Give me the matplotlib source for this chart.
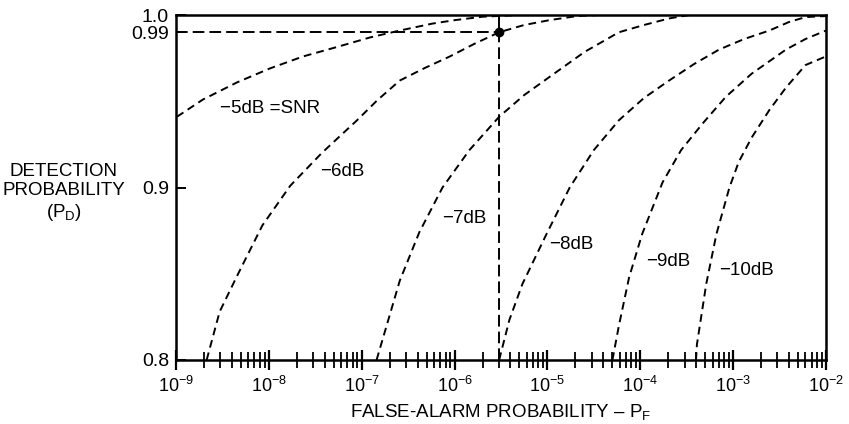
import numpy as np
import matplotlib
matplotlib.use("Agg")
import matplotlib.pyplot as plt
from matplotlib.ticker import LogLocator, NullFormatter

plt.rcParams['font.family'] = ['Liberation Sans', 'DejaVu Sans']
plt.rcParams['mathtext.fontset'] = 'custom'
plt.rcParams['mathtext.rm'] = 'Liberation Sans'
plt.rcParams['mathtext.it'] = 'Liberation Sans:italic'

# curves: log10(false-alarm prob) and detection prob
snr_labels = ["\u22125dB =SNR", "\u22126dB", "\u22127dB", "\u22128dB", "\u22129dB", "\u221210dB"]

pf_m5 = [-8.99, -8.71, -8.34, -7.99, -7.63, -7.27, -6.91, -6.59, -6.24, -6.00, -5.70, -5.30, -2.0]
pd_m5 = [0.941, 0.951, 0.961, 0.969, 0.976, 0.9814, 0.987, 0.991, 0.995, 0.997, 0.999, 1.0, 1.0]

pf_m6 = [-8.67, -8.53, -8.34, -8.07, -7.77, -7.43, -7.05, -6.83, -6.59, -6.32, -6.05, -5.79,
         -5.52, -5.25, -4.98, -4.68, -4.45, -2.0]
pd_m6 = [0.800, 0.828, 0.849, 0.878, 0.901, 0.920, 0.939, 0.9507, 0.962, 0.9693, 0.976, 0.9832,
         0.990, 0.9942, 0.997, 0.9994, 1.0, 1.0]

pf_m7 = [-6.84, -6.59, -6.38, -6.13, -5.84, -5.52, -5.25, -4.98, -4.60, -4.23, -3.96, -3.69, -3.47, -2.0]
pd_m7 = [0.800, 0.846, 0.874, 0.900, 0.9217, 0.941, 0.9536, 0.964, 0.9786, 0.990, 0.9942, 0.998, 1.0, 1.0]

pf_m8 = [-5.52, -5.41, -5.27, -5.01, -4.76, -4.50, -4.23, -3.96, -3.69, -3.42, -3.15, -2.88,
         -2.61, -2.40, -2.22, -2.0]
pd_m8 = [0.800, 0.8232, 0.844, 0.873, 0.900, 0.9217, 0.939, 0.9519, 0.962, 0.9716, 0.980, 0.9861,
         0.991, 0.9959, 0.9988, 0.9994]

pf_m9 = [-4.30, -4.23, -4.12, -3.98, -3.76, -3.56, -3.33, -3.08, -2.80, -2.43, -2.22, -2.0]
pd_m9 = [0.800, 0.820, 0.848, 0.873, 0.903, 0.9217, 0.937, 0.9525, 0.966, 0.980, 0.9861, 0.991]

pf_m10 = [-3.40, -3.39, -3.29, -3.18, -3.04, -2.94, -2.80, -2.61, -2.43, -2.22, -2.0]
pd_m10 = [0.800, 0.809, 0.844, 0.873, 0.900, 0.9148, 0.929, 0.9449, 0.958, 0.971, 0.976]

curves = [(pf_m5, pd_m5), (pf_m6, pd_m6), (pf_m7, pd_m7),
          (pf_m8, pd_m8), (pf_m9, pd_m9), (pf_m10, pd_m10)]

# label anchor points (log10 pf, pd)
label_pf = [-8.53, -7.45, -6.13, -4.98, -3.94, -3.15]
label_pd = [0.946, 0.909, 0.882, 0.867, 0.857, 0.852]

# operating point
op_pf = 3e-6
op_pd = 0.99

yticks = [0.8, 0.9, 0.99, 1.0]
ytick_labels = ["0.8", "0.9", "0.99", "1.0"]

fig = plt.figure(figsize=(8.49, 4.24), dpi=100)
ax = fig.add_axes([176/849, 1 - 360/424, 650/849, 345/424])

for (lp, pd) in curves:
    ax.plot(10.0 ** np.array(lp), pd, color='black', lw=1.4,
            linestyle=(0, (4, 2.6)), clip_on=True)

for txt, lx, ly in zip(snr_labels, label_pf, label_pd):
    ax.text(10.0 ** lx, ly, txt, fontsize=13.5, ha='left', va='center')

# 0.99 / 3e-6 construction lines
ax.plot([1e-9, op_pf], [op_pd, op_pd], color='black', lw=1.4, linestyle=(0, (6, 2.6)))
ax.plot([op_pf, op_pf], [0.8, op_pd], color='black', lw=1.4, linestyle=(0, (6, 2.6)))
ax.plot([op_pf, op_pf], [op_pd, 1.0], color='black', lw=1.4)
ax.plot([op_pf], [op_pd], 'o', color='black', ms=6)

ax.set_xscale('log')
ax.set_xlim(1e-9, 1e-2)
ax.set_ylim(0.8, 1.0)

ax.xaxis.set_major_locator(LogLocator(base=10, numticks=20))
ax.xaxis.set_minor_locator(LogLocator(base=10, subs=np.arange(2, 10), numticks=100))
ax.xaxis.set_minor_formatter(NullFormatter())
ax.tick_params(axis='x', which='major', direction='inout', length=15, width=1.6, pad=4, labelsize=13)
ax.tick_params(axis='x', which='minor', direction='inout', length=11, width=1.3)

ax.set_yticks(yticks)
ax.set_yticklabels(ytick_labels)
ax.tick_params(axis='y', direction='in', length=7, width=1.4, pad=5, labelsize=14)

for s in ax.spines.values():
    s.set_linewidth(1.8)

ax.set_xlabel("FALSE-ALARM PROBABILITY \u2013 P$_\\mathregular{F}$", fontsize=13.5, labelpad=4)
fig.text(64/849, 1 - 193/424, "DETECTION\nPROBABILITY\n(P$_\\mathregular{D}$)",
         ha='center', va='center', multialignment='center', fontsize=13.5, linespacing=1.2)

fig.savefig("out.png", dpi=100)
